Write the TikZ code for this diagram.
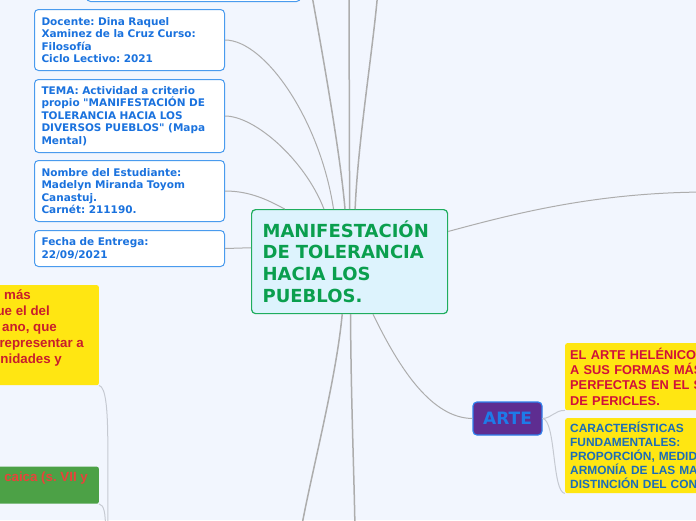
\documentclass[tikz,border=0pt]{standalone}
\usepackage{fontspec}
\newfontfamily\vera{DejaVu Sans}
\newfontfamily\arial{Liberation Sans}
\definecolor{fond}{HTML}{F2F6FE}
\definecolor{infobord}{HTML}{4A9BEE}
\definecolor{infotexte}{HTML}{1A72DE}
\definecolor{centrefond}{HTML}{DDF3FD}
\definecolor{centrebord}{HTML}{1FAD5E}
\definecolor{centretexte}{HTML}{0A9F4E}
\definecolor{jaune}{HTML}{FFE612}
\definecolor{rouge}{HTML}{C81E2C}
\definecolor{cramoisi}{HTML}{D0103A}
\definecolor{bleujaune}{HTML}{1B6DB8}
\definecolor{violet}{HTML}{5E2D91}
\definecolor{artebord}{HTML}{2F80ED}
\definecolor{artetexte}{HTML}{1E7BE8}
\definecolor{vert}{HTML}{4CA146}
\definecolor{vertrouge}{HTML}{E8433A}
\definecolor{lien}{HTML}{ADADAD}
\definecolor{lienclair}{HTML}{C6CAD2}
\frenchspacing
\begin{document}
\begin{tikzpicture}[x=1pt, y=-1pt,
		infobox/.style={draw=infobord, fill=white, rounded corners=4pt, line width=1pt,
			anchor=north west, text width=176pt, inner xsep=7pt, inner ysep=0pt,
			minimum width=190pt, align=left, text=infotexte,
			font=\vera\bfseries\fontsize{10.5}{12.6}\selectfont},
		sujet/.style={draw=centrebord, fill=centrefond, rounded corners=4pt, line width=1.2pt,
			anchor=north west, text width=174pt, inner xsep=11pt, inner ysep=0pt,
			minimum width=196pt, minimum height=104pt, align=left, text=centretexte,
			font=\vera\bfseries\fontsize{18}{21.7}\selectfont},
		artebox/.style={draw=artebord, fill=violet, rounded corners=4pt, line width=1.2pt,
			minimum width=69pt, minimum height=33pt, inner sep=0pt, text=artetexte,
			font=\vera\bfseries\fontsize{17}{20}\selectfont},
		jaunebox/.style={fill=jaune, rounded corners=2pt, anchor=north west, align=left,
			inner xsep=5pt, inner ysep=0pt, text width=190pt},
		rougetxt/.style={text=rouge, inner sep=0pt, font=\arial\bfseries\fontsize{13.3}{16}\selectfont},
		link/.style={draw=lien, line width=1pt},
		linkfort/.style={draw=lien, line width=1.5pt},
		sublink/.style={draw=lienclair, line width=1pt}]

		\useasboundingbox (0,0) rectangle (696,520);
		\clip (0,0) rectangle (696,520);
		\fill[fond] (0,0) rectangle (696,520);

		% left column
		\node[infobox, minimum width=214pt, minimum height=40pt] (entete) at (86,-39) {};
		\node[infobox, minimum height=61pt] (docente) at (34,9)
			{Docente: Dina Raquel\\Xaminez de la Cruz Curso:\\Filosofía\\Ciclo Lectivo: 2021};
		\node[infobox, minimum height=73pt] (tema) at (34,79)
			{TEMA: Actividad a criterio\\propio "MANIFESTACIÓN DE\\TOLERANCIA HACIA LOS\\DIVERSOS PUEBLOS" (Mapa\\Mental)};
		\node[infobox, minimum height=61pt] (nombre) at (34,160)
			{Nombre del Estudiante:\\Madelyn Miranda Toyom\\Canastuj.\\Carnét: 211190.};
		\node[infobox, minimum height=36pt] (fecha) at (34,230)
			{Fecha de Entrega:\\22/09/2021};

		% central topic
		\node[sujet] (centre) at (251,209) {MANIFESTACIÓN\\DE TOLERANCIA\\HACIA LOS\\PUEBLOS.};

		% ARTE branch
		\node[artebox] (arte) at (507.5,418.5) {ARTE};
		\node[jaunebox, minimum height=67pt, text=cramoisi,
			font=\arial\bfseries\fontsize{12.8}{15.3}\selectfont] (helenico) at (565,343)
			{EL ARTE HELÉNICO\\A SUS FORMAS MÁS\\PERFECTAS EN EL S\\DE PERICLES.};
		\node[jaunebox, minimum height=75pt, text=bleujaune,
			font=\arial\bfseries\fontsize{11.9}{14}\selectfont] (caract) at (565,418)
			{CARACTERÍSTICAS\\FUNDAMENTALES:\\PROPORCIÓN, MEDID\\ARMONÍA DE LAS MA\\DISTINCIÓN DEL CON};

		% left branch, cut by the edge
		\node[fill=jaune, rounded corners=2pt, anchor=north east, minimum width=199pt,
			minimum height=100pt] (grecia) at (99,285) {};
		\foreach \xe/\yb/\mot [count=\i] in {31/299.5/más, 50/315.5/ue el del, 57/331.5/{ano, que},
				84/347.5/representar a, 62/363.5/nidades y}
			\node[rougetxt, anchor=base east] (grecia\i) at (\xe,\yb) {\mot};
		\node[fill=vert, rounded corners=2pt, anchor=north east, minimum width=199pt,
			minimum height=37pt] (arcaica) at (99,466.5) {};
		\node[rougetxt, text=vertrouge, anchor=base east] (arcaica1) at (88,481.5) {caica (s. VII y};

		% free ends of the branches that leave the picture
		\coordinate (haut1) at (311,-10);
		\coordinate (haut2) at (349,-10);
		\coordinate (haut3) at (378,-10);
		\coordinate (droite) at (710,192);
		\coordinate (bas1) at (301,530);
		\coordinate (bas2) at (355,530);
		\coordinate (bas3) at (108,530);
		\coordinate (bas4) at (105.5,530);

		% connectors
		\draw[linkfort] (centre.95.5) .. controls (340,150) and (320,40) .. (haut1);
		\draw[linkfort] (centre.90) -- (haut2);
		\draw[linkfort] (centre.84.5) .. controls (358,140) and (373,50) .. (haut3);
		\draw[link] (docente.east) .. controls (265,40) and (320,120) .. (centre.107.1);
		\draw[link] (tema.east) .. controls (255,116) and (305,160) .. (centre.116.6);
		\draw[link] (nombre.east) .. controls (250,191) and (268,200) .. (centre.141.8);
		\draw[link] (fecha.east) -- (centre.172.4);
		\draw[link] (centre.17) .. controls (520,212) and (600,192) .. (droite);
		\draw[linkfort] (centre.262.3) .. controls (336,380) and (312,470) .. (bas1);
		\draw[linkfort] (centre.271.1) .. controls (351,400) and (354,470) .. (bas2);
		\draw[link] (centre.294.8) .. controls (400,370) and (432,418) .. (arte.west);
		\draw[sublink] (arte.east) .. controls (552,418) and (555,410) .. (helenico.south west);
		\draw[sublink] (arte.east) .. controls (556,420) and (552,493) .. (caract.south west);
		\draw[sublink] (grecia.south east) .. controls (106,387) and (107.5,410) .. (107.8,440) -- (bas3);
		\draw[sublink] (arcaica.south east) .. controls (104,505) and (105.5,512) .. (bas4);
	\end{tikzpicture}
\end{document}
